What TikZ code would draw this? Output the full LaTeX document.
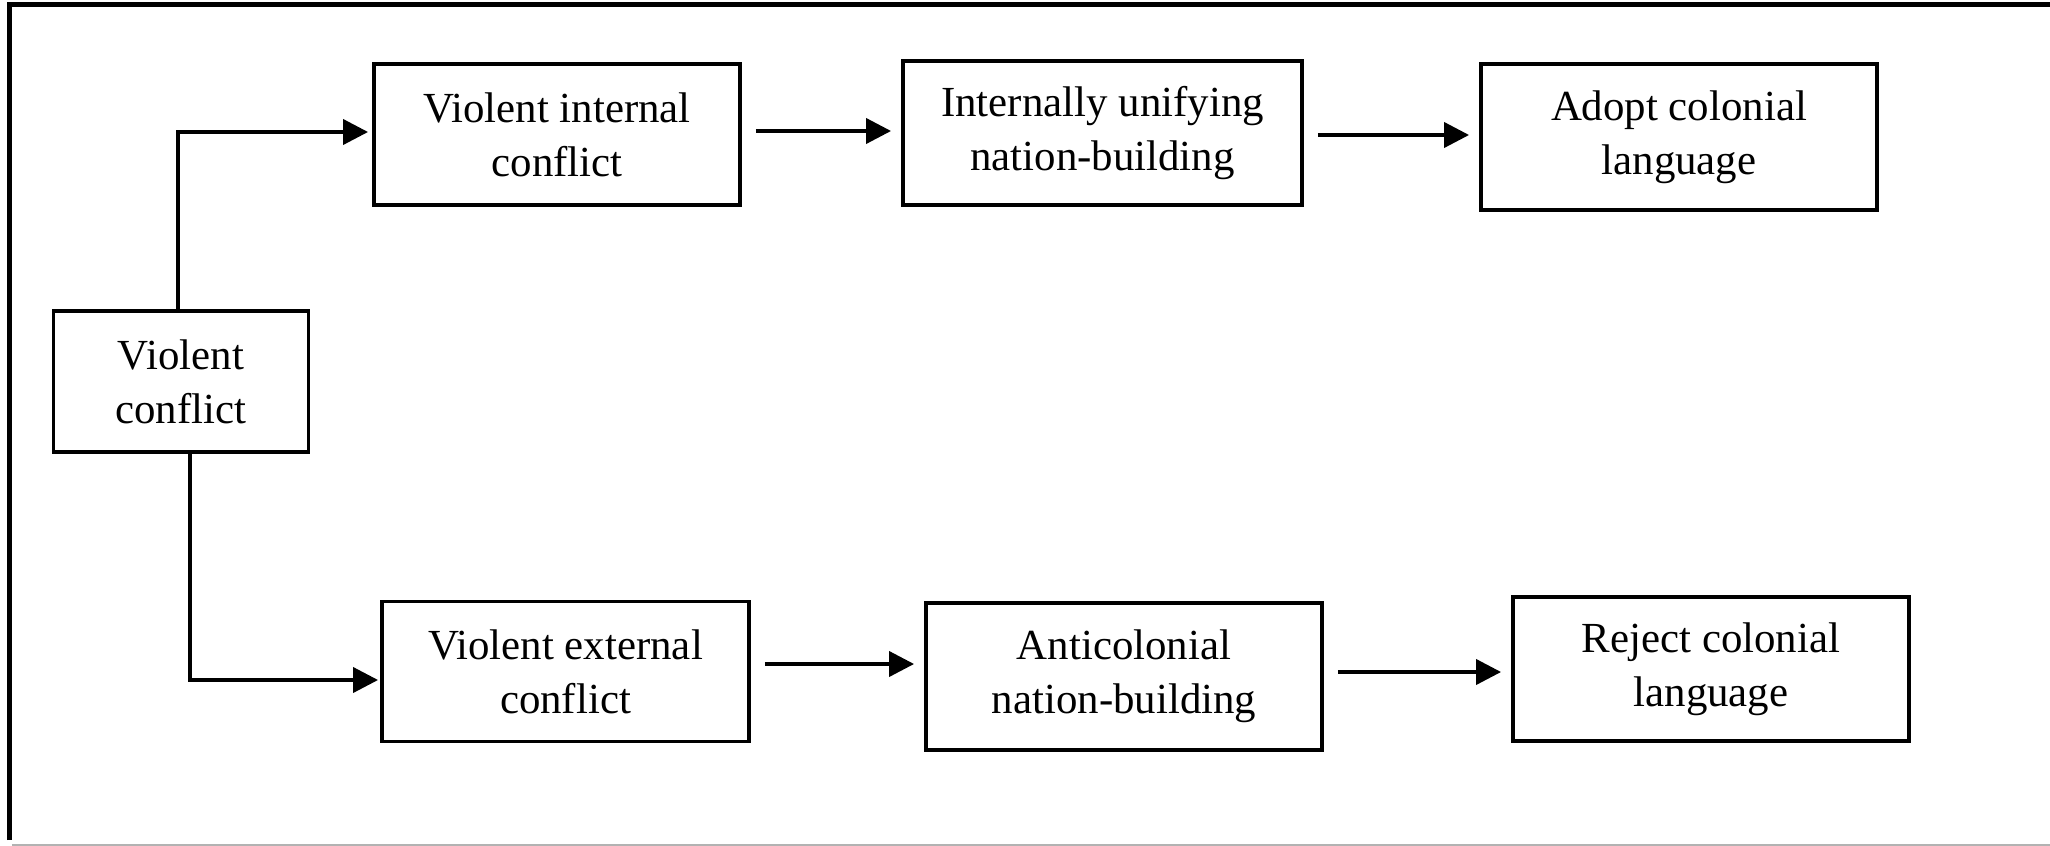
\documentclass[tikz,border=0pt]{standalone}
\usepackage{fontspec}
\setmainfont{Liberation Serif}
\usetikzlibrary{arrows.meta}

\begin{document}
\begin{tikzpicture}[
    box/.style={draw, line width=1.1pt, align=center, inner sep=0pt,
        font=\fontsize{12.2}{15.3}\selectfont},
    flow/.style={line width=1.1pt, -{Triangle[length=2.5mm, width=2.5mm]}},
    gap/.style={shorten <=0.14cm, shorten >=0.1cm}
]
    \useasboundingbox (0, 0) rectangle (20.5, -8.46);
    % Page frame
    \draw[line width=1.4pt] (0.092, -8.40) -- (0.092, -0.043) -- (20.5, -0.043);
    \draw[gray!60, line width=0.4pt] (0.12, -8.45) -- (20.5, -8.45);
    % Start box
    \node[box, minimum width=2.55cm, minimum height=1.41cm] (conflict) at (1.81, -3.815) {Violent\\conflict};
    % Upper row
    \node[box, minimum width=3.66cm, minimum height=1.41cm] (internal) at (5.57, -1.345) {Violent internal\\conflict};
    \node[box, minimum width=3.99cm, minimum height=1.44cm] (unifying) at (11.025, -1.33) {Internally unifying\\nation-building};
    \node[box, minimum width=3.96cm, minimum height=1.46cm] (adopt) at (16.79, -1.37) {Adopt colonial\\language};
    % Lower row
    \node[box, minimum width=3.67cm, minimum height=1.40cm] (external) at (5.655, -6.715) {Violent external\\conflict};
    \node[box, minimum width=3.96cm, minimum height=1.47cm] (anticolonial) at (11.24, -6.765) {Anticolonial\\nation-building};
    \node[box, minimum width=3.96cm, minimum height=1.44cm] (reject) at (17.11, -6.69) {Reject colonial\\language};
    % Branches out of the start box
    \draw[flow, shorten >=0.04cm] ([xshift=-0.03cm]conflict.north) |- ([yshift=0.025cm]internal.west);
    \draw[flow, shorten >=0.02cm] ([xshift=0.09cm]conflict.south) |- ([yshift=-0.085cm]external.west);
    % Chains
    \draw[flow, gap] ([yshift=0.035cm]internal.east) -- ([yshift=0.035cm]internal.east -| unifying.west);
    \draw[flow, gap] ([yshift=-0.02cm]unifying.east) -- ([yshift=-0.02cm]unifying.east -| adopt.west);
    \draw[flow, gap] ([yshift=0.075cm]external.east) -- ([yshift=0.075cm]external.east -| anticolonial.west);
    \draw[flow, gap] ([yshift=0.045cm]anticolonial.east) -- ([yshift=0.045cm]anticolonial.east -| reject.west);
\end{tikzpicture}
\end{document}
